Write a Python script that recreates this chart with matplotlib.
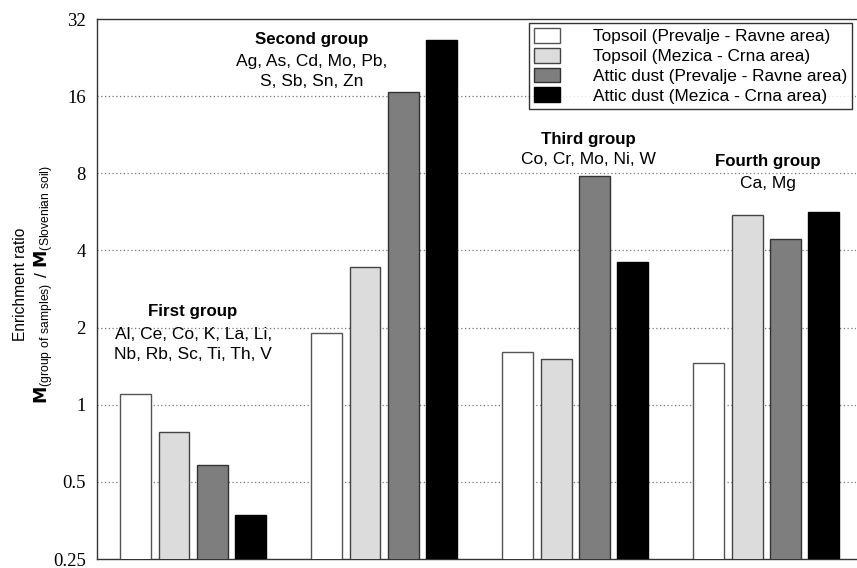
import numpy as np
import matplotlib
matplotlib.use('Agg')
import matplotlib.pyplot as plt
from matplotlib.ticker import FixedLocator, FixedFormatter, NullLocator

# data
groups = ['First group', 'Second group', 'Third group', 'Fourth group']
elements = ['Al, Ce, Co, K, La, Li,\nNb, Rb, Sc, Ti, Th, V',
            'Ag, As, Cd, Mo, Pb,\nS, Sb, Sn, Zn',
            'Co, Cr, Mo, Ni, W',
            'Ca, Mg']
series = ['Topsoil (Prevalje - Ravne area)',
          'Topsoil (Mezica - Crna area)',
          'Attic dust (Prevalje - Ravne area)',
          'Attic dust (Mezica - Crna area)']
topsoil_pr = [1.10, 1.90, 1.60, 1.46]
topsoil_mc = [0.78, 3.46, 1.51, 5.50]
dust_pr = [0.58, 16.6, 7.8, 4.45]
dust_mc = [0.37, 26.5, 3.62, 5.65]
yticks = [0.25, 0.5, 1, 2, 4, 8, 16, 32]
ytick_labels = ['0.25', '0.5', '1', '2', '4', '8', '16', '32']

colors = ['white', '#dcdcdc', '#7e7e7e', 'black']
edges = ['#555555', '#444444', '#333333', 'black']

fig = plt.figure(figsize=(8.57, 5.68), dpi=100)
ax = fig.add_axes([0.1132, 0.0158, 0.8856, 0.9507])

x = np.arange(len(groups))
width = 0.162
offsets = [-0.3, -0.1, 0.1, 0.3]
for i, vals in enumerate([topsoil_pr, topsoil_mc, dust_pr, dust_mc]):
    ax.bar(x + offsets[i], vals, width, color=colors[i], edgecolor=edges[i],
           linewidth=1, label=series[i], zorder=3)

ax.set_yscale('log', base=2)
ax.set_ylim(0.25, 32)
ax.set_xlim(-0.503, 3.47)
ax.yaxis.set_major_locator(FixedLocator(yticks))
ax.yaxis.set_major_formatter(FixedFormatter(ytick_labels))
ax.yaxis.set_minor_locator(NullLocator())
ax.set_xticks([])
ax.tick_params(axis='y', length=0, pad=8)
for lab in ax.get_yticklabels():
    lab.set_fontfamily('Liberation Serif')
    lab.set_fontsize(13.5)

for v in yticks[1:-1]:
    ax.axhline(v, color='#777777', linestyle=(0, (1, 2)), linewidth=0.9, zorder=1)

ax.spines['right'].set_visible(False)
for s in ['left', 'top', 'bottom']:
    ax.spines[s].set_color('#333333')
    ax.spines[s].set_linewidth(1)

# group annotations
title_pos = [(0.0, 0.4586), (0.62, 0.9613), (2.07, 0.777), (3.01, 0.7366)]
body_pos = [(0.0, 0.397), (0.62, 0.9024), (2.07, 0.740), (3.01, 0.696)]
trans = ax.get_xaxis_transform()
for i in range(len(groups)):
    ax.text(title_pos[i][0], title_pos[i][1], groups[i], transform=trans,
            ha='center', va='center', fontsize=12.2, fontweight='bold',
            family='Liberation Sans')
    ax.text(body_pos[i][0], body_pos[i][1], elements[i], transform=trans,
            ha='center', va='center', fontsize=12.5, linespacing=1.4,
            family='Liberation Sans')

fig.text(0.024, 0.5, 'Enrichment ratio', rotation=90, ha='center', va='center',
         fontsize=11.2, family='Liberation Sans')
fig.text(0.051, 0.5,
         r'$\mathbf{M}\mathregular{_{(group\ of\ samples)}\ /\ }\mathbf{M}\mathregular{_{(Slovenian\ soil)}}$',
         rotation=90, ha='center', va='center', fontsize=12.5,
         family='Liberation Sans')

leg = ax.legend(loc='upper right', bbox_to_anchor=(0.995, 0.993), frameon=True,
                fancybox=False, prop={'family': 'Liberation Sans', 'size': 12.4},
                handlelength=1.5, handleheight=0.95, handletextpad=1.9,
                borderpad=0.3, borderaxespad=0, labelspacing=0.2)
leg.get_frame().set_edgecolor('black')
leg.get_frame().set_linewidth(1)

fig.savefig('out.png', dpi=100)
